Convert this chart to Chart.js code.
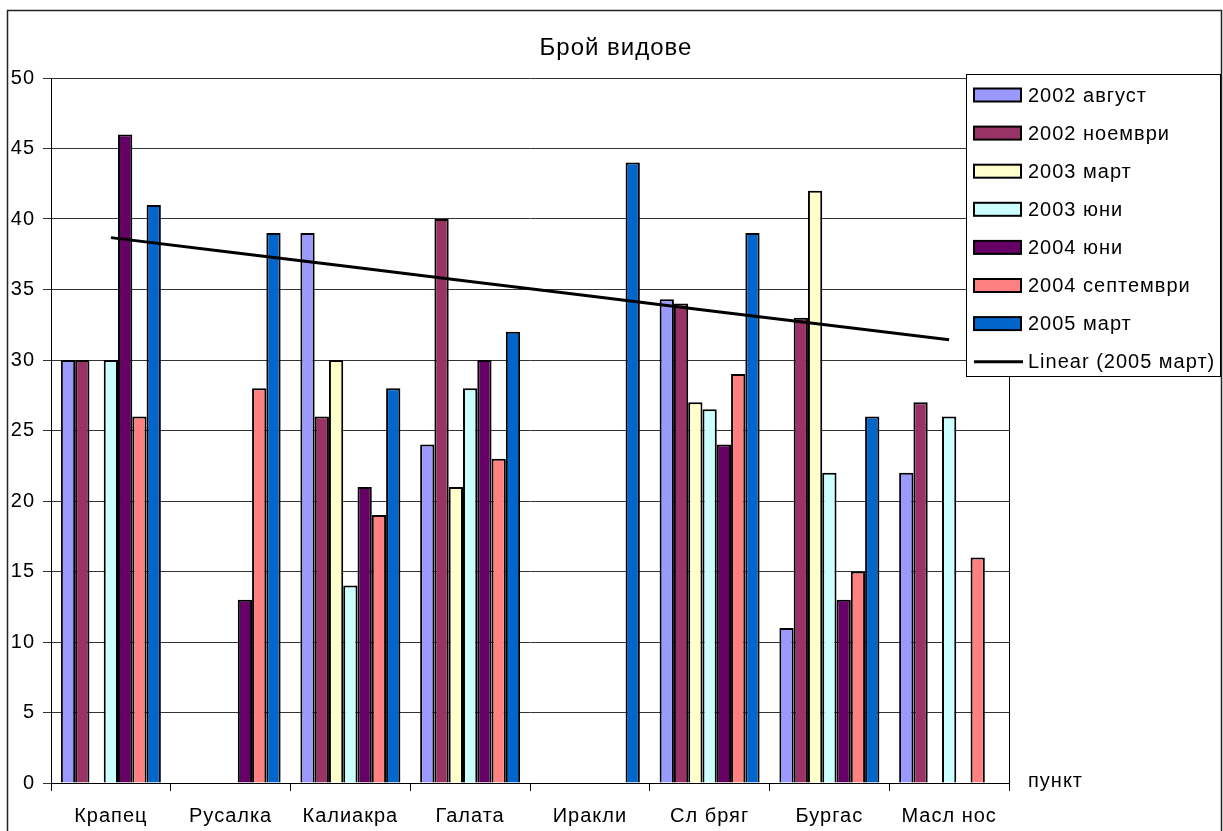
<!DOCTYPE html>
<html>
<head>
<meta charset="utf-8">
<script src="https://cdn.jsdelivr.net/npm/chart.js@4.4.1/dist/chart.umd.min.js"></script>
<style>
    html, body { margin: 0; padding: 0; background: #fff; }
    #wrap { width: 1223px; height: 831px; }
</style>
</head>
<body>
<div id="wrap"><canvas id="speciesChart" width="1223" height="831"></canvas></div>
<script>
// данни - брой видове по пункт
const categories = ['Крапец', 'Русалка', 'Калиакра', 'Галата', 'Иракли', 'Сл бряг', 'Бургас', 'Масл нос'];
const seriesNames = ['2002 август', '2002 ноември', '2003 март', '2003 юни', '2004 юни', '2004 септември', '2005 март'];
const aug2002 = [30, null, 39, 24, null, 34.3, 11, 22];
const nov2002 = [30, null, 26, 40, null, 34, 33, 27];
const mar2003 = [null, null, 30, 21, null, 27, 42, null];
const jun2003 = [30, null, 14, 28, null, 26.5, 22, 26];
const jun2004 = [46, 13, 21, 30, null, 24, 13, null];
const sep2004 = [26, 28, 19, 23, null, 29, 15, 16];
const mar2005 = [41, 39, 28, 32, 44, 39, 26, null];
const yTicks = [0, 5, 10, 15, 20, 25, 30, 35, 40, 45, 50];
const trendName = 'Linear (2005 март)';
const xTitle = 'пункт';
const chartTitle = 'Брой видове';

const seriesValues = [aug2002, nov2002, mar2003, jun2003, jun2004, sep2004, mar2005];
const seriesColors = ['#9999FF', '#993366', '#FFFFCC', '#CCFFFF', '#660066', '#FF8080', '#0066CC'];

const FONT = '"Liberation Sans", Arial, sans-serif';

// линеен тренд (най-малки квадрати) за 2005 март, x = 1..n
function linearTrend(values) {
    let pts = [];
    values.forEach((v, i) => { if (v !== null) pts.push([i + 1, v]); });
    let n = pts.length;
    let mx = pts.reduce((s, p) => s + p[0], 0) / n;
    let my = pts.reduce((s, p) => s + p[1], 0) / n;
    let sxy = 0, sxx = 0;
    pts.forEach(p => { sxy += (p[0] - mx) * (p[1] - my); sxx += (p[0] - mx) * (p[0] - mx); });
    let slope = sxy / sxx;
    return values.map((_, i) => my + slope * (i + 1 - mx));
}

const datasets = seriesValues.map((vals, i) => ({
    type: 'bar',
    label: seriesNames[i],
    data: vals,
    backgroundColor: seriesColors[i],
    borderColor: '#000',
    borderWidth: 2,
    categoryPercentage: 0.835,
    barPercentage: 1,
    order: 2
}));

datasets.push({
    type: 'line',
    label: trendName,
    data: linearTrend(mar2005),
    borderColor: '#000',
    borderWidth: 3,
    pointRadius: 0,
    fill: false,
    tension: 0,
    order: 1
});

// рамка, заглавие, легенда и надпис на оста
const decorPlugin = {
    id: 'decor',
    beforeDraw(chart) {
        // Excel разрежда буквите малко повече
        chart.ctx.letterSpacing = '1px';
    },
    afterDraw(chart) {
        const ctx = chart.ctx;
        const area = chart.chartArea;
        ctx.save();
        ctx.letterSpacing = '1px';

        // дясна граница на графиката
        ctx.strokeStyle = '#000';
        ctx.lineWidth = 1;
        ctx.beginPath();
        ctx.moveTo(area.right + 0.5, area.top);
        ctx.lineTo(area.right + 0.5, area.bottom);
        ctx.stroke();

        // външна рамка
        ctx.lineWidth = 1.5;
        ctx.strokeStyle = '#222';
        ctx.strokeRect(7.5, 10.5, 1214, 900);

        // заглавие
        ctx.fillStyle = '#000';
        ctx.font = '24px ' + FONT;
        ctx.textAlign = 'center';
        ctx.textBaseline = 'middle';
        ctx.fillText(chartTitle, 616, 48);

        // "пункт"
        ctx.font = '20px ' + FONT;
        ctx.textAlign = 'left';
        ctx.textBaseline = 'alphabetic';
        ctx.fillText(xTitle, 1028, 787);

        // легенда
        const lx = 966.5, ly = 74.5, lw = 254, lh = 302;
        ctx.fillStyle = '#fff';
        ctx.fillRect(lx, ly, lw, lh);
        ctx.strokeStyle = '#000';
        ctx.lineWidth = 1;
        ctx.strokeRect(lx, ly, lw, lh);

        ctx.font = '20px ' + FONT;
        ctx.textBaseline = 'middle';
        chart.data.datasets.forEach((ds, i) => {
            const cy = 95 + i * 38.1;
            if (ds.type === 'bar') {
                ctx.fillStyle = ds.backgroundColor;
                ctx.fillRect(974, cy - 6.5, 47, 13);
                ctx.lineWidth = 2;
                ctx.strokeStyle = '#000';
                ctx.strokeRect(974, cy - 6.5, 47, 13);
            } else {
                ctx.lineWidth = 3;
                ctx.strokeStyle = '#000';
                ctx.beginPath();
                ctx.moveTo(974, cy);
                ctx.lineTo(1023, cy);
                ctx.stroke();
            }
            ctx.fillStyle = '#000';
            ctx.fillText(ds.label, 1028, cy + 1);
        });

        ctx.restore();
    }
};

new Chart(document.getElementById('speciesChart'), {
    data: {
        labels: categories,
        datasets: datasets
    },
    options: {
        responsive: false,
        animation: false,
        layout: {
            padding: { left: 0, right: 214, top: 78, bottom: 0 }
        },
        plugins: {
            legend: { display: false },
            title: { display: false },
            tooltip: { enabled: false }
        },
        scales: {
            x: {
                offset: true,
                grid: {
                    offset: true,
                    drawOnChartArea: false,
                    drawTicks: true,
                    tickLength: 8,
                    color: '#000'
                },
                border: { color: '#000', width: 1 },
                ticks: {
                    color: '#000',
                    font: { family: FONT, size: 20 },
                    padding: 13,
                    maxRotation: 0,
                    autoSkip: false
                },
                afterFit: function (scale) { scale.height = 48; }
            },
            y: {
                min: 0,
                max: 50,
                afterBuildTicks: function (scale) {
                    scale.ticks = yTicks.map(v => ({ value: v }));
                },
                grid: {
                    color: '#333',
                    lineWidth: 1,
                    drawTicks: true,
                    tickLength: 8
                },
                border: { color: '#000', width: 1 },
                ticks: {
                    color: '#000',
                    font: { family: FONT, size: 20 },
                    padding: 8
                },
                afterFit: function (scale) { scale.width = 51; }
            }
        }
    },
    plugins: [decorPlugin]
});
</script>
</body>
</html>
